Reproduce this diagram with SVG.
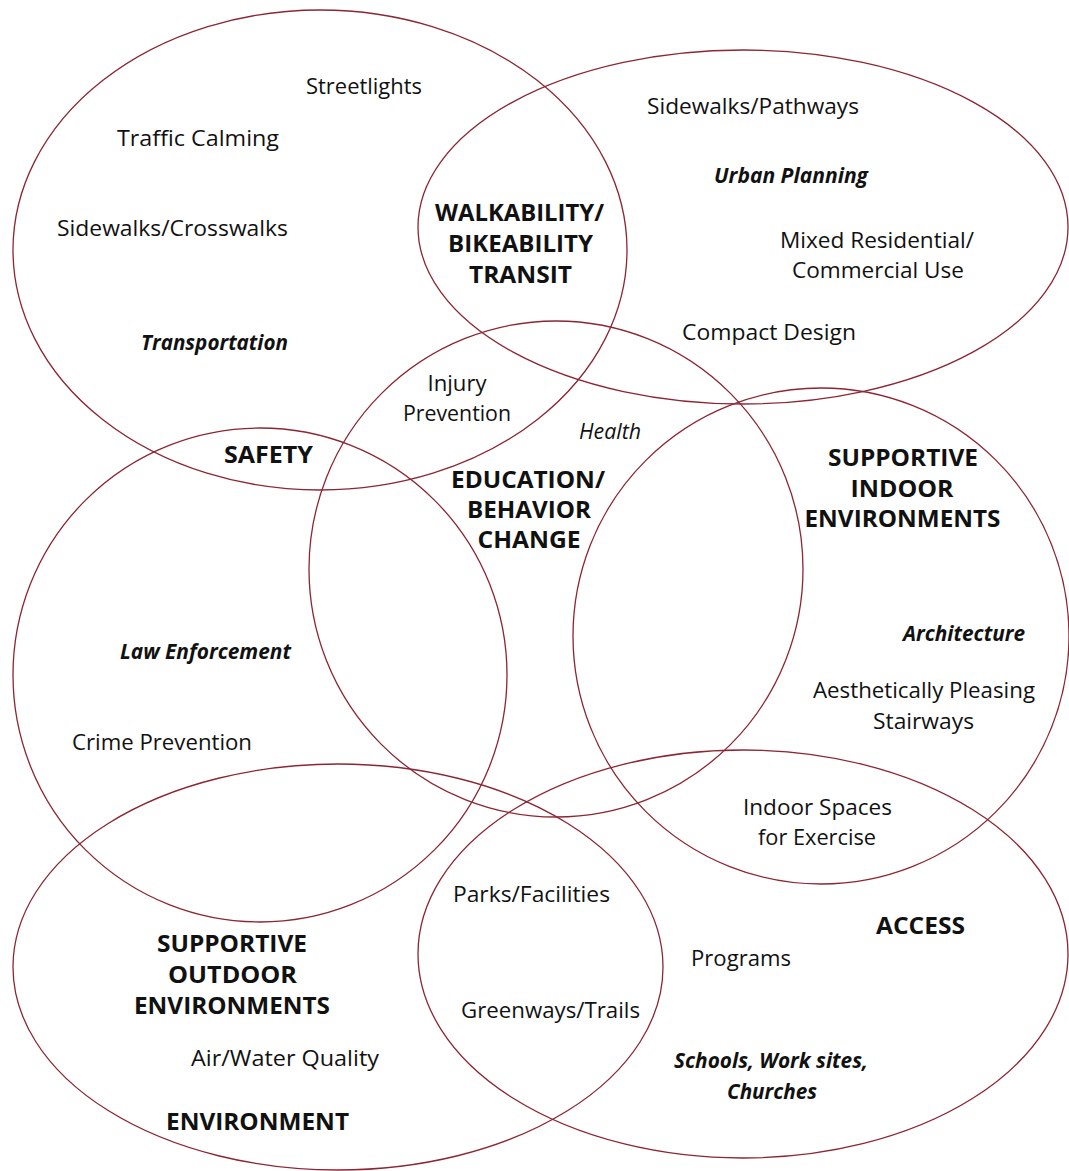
<svg xmlns="http://www.w3.org/2000/svg" width="1069" height="1171" viewBox="0 0 1069 1171">
  <style>
    .ring { fill: none; stroke: #8b2634; stroke-width: 1.3; }
    text { font-family: "Open Sans", "Noto Sans", "Liberation Sans", sans-serif; fill: #111; text-anchor: middle; }
    .item { font-size: 21px; }
    .field { font-size: 21px; font-weight: 700; font-style: italic; }
    .theme { font-size: 23px; font-weight: 700; }
    .soft { font-size: 21px; font-style: italic; }
  </style>
  <rect width="1069" height="1171" fill="#ffffff"/>

  <!-- Transportation -->
  <g id="transportation">
    <ellipse class="ring" cx="320" cy="250" rx="307" ry="240"/>
    <text class="item" x="364" y="94" textLength="116" lengthAdjust="spacingAndGlyphs">Streetlights</text>
    <text class="item" x="198" y="146" textLength="162" lengthAdjust="spacingAndGlyphs">Traffic Calming</text>
    <text class="item" x="172.5" y="236" textLength="231" lengthAdjust="spacingAndGlyphs">Sidewalks/Crosswalks</text>
    <text class="field" x="214.5" y="350" textLength="147" lengthAdjust="spacingAndGlyphs">Transportation</text>
  </g>

  <!-- Urban Planning -->
  <g id="urban-planning">
    <ellipse class="ring" cx="743" cy="227" rx="325" ry="177"/>
    <text class="item" x="753" y="114" textLength="212" lengthAdjust="spacingAndGlyphs">Sidewalks/Pathways</text>
    <text class="field" x="791" y="183" textLength="154" lengthAdjust="spacingAndGlyphs">Urban Planning</text>
    <text class="item" x="877" y="248" textLength="194" lengthAdjust="spacingAndGlyphs">Mixed Residential/</text>
    <text class="item" x="878" y="278" textLength="172" lengthAdjust="spacingAndGlyphs">Commercial Use</text>
    <text class="item" x="769" y="340" textLength="174" lengthAdjust="spacingAndGlyphs">Compact Design</text>
  </g>

  <!-- Walkability overlap -->
  <g id="walkability">
    <text class="theme" x="519.5" y="221" textLength="169" lengthAdjust="spacingAndGlyphs">WALKABILITY/</text>
    <text class="theme" x="520.5" y="252" textLength="145" lengthAdjust="spacingAndGlyphs">BIKEABILITY</text>
    <text class="theme" x="520.5" y="283" textLength="103" lengthAdjust="spacingAndGlyphs">TRANSIT</text>
  </g>

  <!-- Health / Education -->
  <g id="health">
    <ellipse class="ring" cx="556" cy="569" rx="247" ry="248"/>
    <text class="item" x="457" y="391" textLength="59" lengthAdjust="spacingAndGlyphs">Injury</text>
    <text class="item" x="457" y="421" textLength="108" lengthAdjust="spacingAndGlyphs">Prevention</text>
    <text class="soft" x="610" y="439" textLength="62" lengthAdjust="spacingAndGlyphs">Health</text>
    <text class="theme" x="528" y="488" textLength="154" lengthAdjust="spacingAndGlyphs">EDUCATION/</text>
    <text class="theme" x="529" y="518" textLength="124" lengthAdjust="spacingAndGlyphs">BEHAVIOR</text>
    <text class="theme" x="529" y="548" textLength="103" lengthAdjust="spacingAndGlyphs">CHANGE</text>
  </g>

  <!-- Safety / Law Enforcement -->
  <g id="safety">
    <ellipse class="ring" cx="260" cy="675" rx="247" ry="247"/>
    <text class="theme" x="268.5" y="463" textLength="89" lengthAdjust="spacingAndGlyphs">SAFETY</text>
    <text class="field" x="205.5" y="659" textLength="171" lengthAdjust="spacingAndGlyphs">Law Enforcement</text>
    <text class="item" x="162" y="750" textLength="180" lengthAdjust="spacingAndGlyphs">Crime Prevention</text>
  </g>

  <!-- Architecture / indoor environments -->
  <g id="architecture">
    <ellipse class="ring" cx="821" cy="636" rx="248" ry="248"/>
    <text class="theme" x="903" y="466" textLength="150" lengthAdjust="spacingAndGlyphs">SUPPORTIVE</text>
    <text class="theme" x="902" y="497" textLength="103" lengthAdjust="spacingAndGlyphs">INDOOR</text>
    <text class="theme" x="902.5" y="527" textLength="196" lengthAdjust="spacingAndGlyphs">ENVIRONMENTS</text>
    <text class="field" x="964" y="641" textLength="122" lengthAdjust="spacingAndGlyphs">Architecture</text>
    <text class="item" x="924" y="698" textLength="222" lengthAdjust="spacingAndGlyphs">Aesthetically Pleasing</text>
    <text class="item" x="923.5" y="729" textLength="101" lengthAdjust="spacingAndGlyphs">Stairways</text>
    <text class="item" x="817.5" y="815" textLength="149" lengthAdjust="spacingAndGlyphs">Indoor Spaces</text>
    <text class="item" x="817" y="845" textLength="118" lengthAdjust="spacingAndGlyphs">for Exercise</text>
  </g>

  <!-- Environment / outdoor environments -->
  <g id="environment">
    <ellipse class="ring" cx="338" cy="967" rx="325" ry="203"/>
    <text class="theme" x="232" y="952" textLength="150" lengthAdjust="spacingAndGlyphs">SUPPORTIVE</text>
    <text class="theme" x="232.5" y="983" textLength="129" lengthAdjust="spacingAndGlyphs">OUTDOOR</text>
    <text class="theme" x="232" y="1014" textLength="196" lengthAdjust="spacingAndGlyphs">ENVIRONMENTS</text>
    <text class="item" x="285" y="1066" textLength="188" lengthAdjust="spacingAndGlyphs">Air/Water Quality</text>
    <text class="theme" x="257.5" y="1130" textLength="183" lengthAdjust="spacingAndGlyphs">ENVIRONMENT</text>
  </g>

  <!-- Access -->
  <g id="access">
    <ellipse class="ring" cx="743" cy="954" rx="325" ry="204"/>
    <text class="item" x="531.5" y="902" textLength="157" lengthAdjust="spacingAndGlyphs">Parks/Facilities</text>
    <text class="item" x="550.5" y="1018" textLength="179" lengthAdjust="spacingAndGlyphs">Greenways/Trails</text>
    <text class="theme" x="920.5" y="934" textLength="89" lengthAdjust="spacingAndGlyphs">ACCESS</text>
    <text class="item" x="741" y="966" textLength="100" lengthAdjust="spacingAndGlyphs">Programs</text>
    <text class="field" x="771" y="1068" textLength="194" lengthAdjust="spacingAndGlyphs">Schools, Work sites,</text>
    <text class="field" x="772" y="1099" textLength="90" lengthAdjust="spacingAndGlyphs">Churches</text>
  </g>
</svg>
